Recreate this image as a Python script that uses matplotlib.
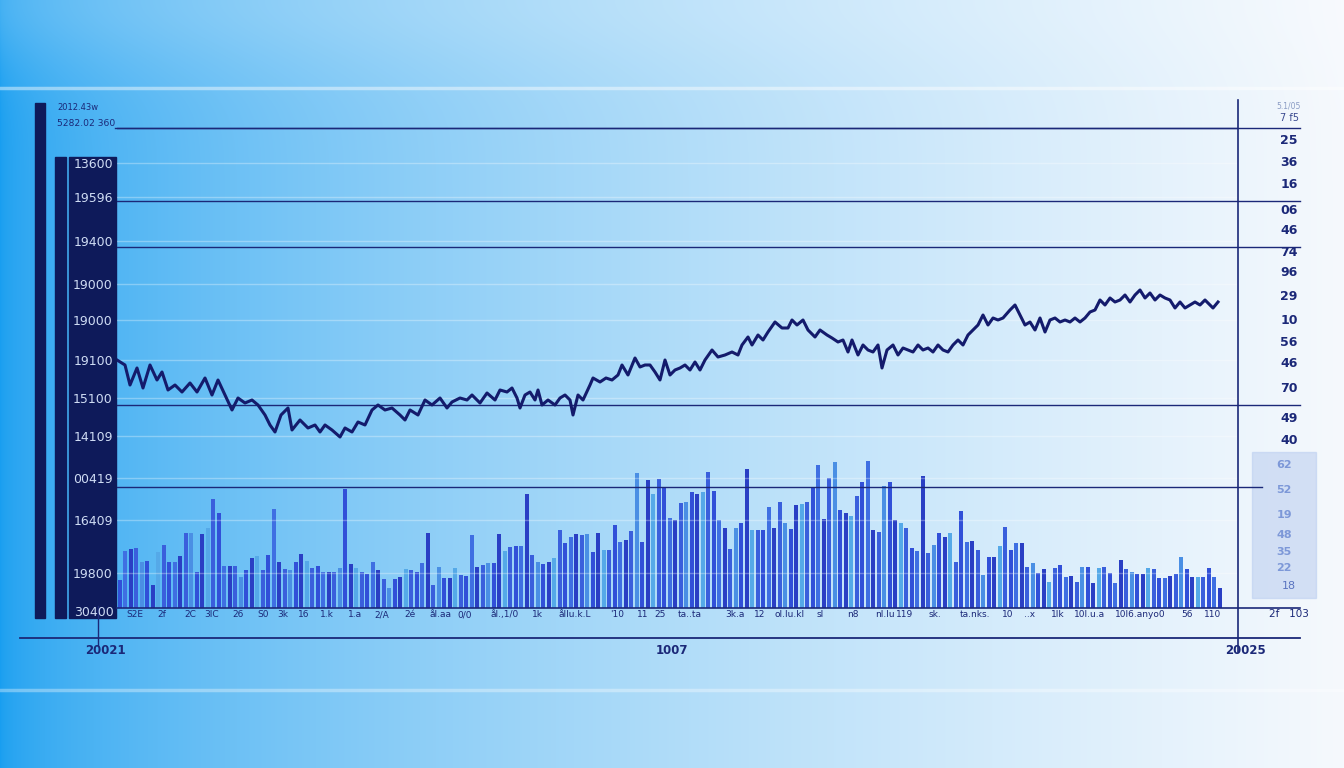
import matplotlib
matplotlib.use("Agg")
import matplotlib.pyplot as plt
from matplotlib.patches import Rectangle
from matplotlib.lines import Line2D
import numpy as np

W, H = 1344, 768

# ---- data ----
# index line: day offset from start, index level
line_day = [0, 8, 13, 20, 26, 33, 40, 45, 51, 58,
            65, 73, 80, 88, 95, 101, 108, 115, 121, 128,
            135, 141, 148, 153, 158, 164, 171, 175, 183, 191,
            198, 203, 208, 215, 223, 228, 235, 241, 248, 255,
            261, 268, 275, 283, 288, 293, 301, 308, 315, 323,
            330, 335, 343, 350, 355, 363, 370, 378, 383, 390,
            395, 400, 403, 408, 413, 418, 421, 425, 431, 438,
            443, 448, 453, 456, 461, 466, 473, 476, 483, 489,
            495, 501, 505, 511, 518, 523, 528, 533, 538, 543,
            548, 553, 558, 563, 568, 573, 578, 583, 588, 595,
            601, 608, 615, 621, 625, 631, 635, 641, 646, 651,
            658, 665, 671, 675, 680, 686, 691, 698, 703, 710,
            715, 721, 726, 731, 735, 741, 746, 751, 756, 761,
            765, 770, 776, 781, 786, 791, 796, 801, 806, 811,
            816, 821, 826, 831, 836, 841, 846, 851, 856, 861,
            866, 871, 876, 881, 886, 893, 898, 903, 908, 913,
            918, 923, 928, 933, 938, 943, 948, 953, 958, 963,
            968, 973, 978, 983, 988, 993, 998, 1003, 1008, 1013,
            1018, 1023, 1028, 1033, 1038, 1043, 1048, 1053, 1058, 1063,
            1068, 1073, 1078, 1083, 1088, 1093, 1096, 1101]
line_val = [248, 243, 223, 240, 220, 243, 228, 236, 218, 223,
            216, 225, 216, 230, 213, 228, 213, 198, 210, 205,
            208, 203, 193, 183, 176, 193, 200, 178, 188, 180,
            183, 176, 183, 178, 171, 180, 176, 186, 183, 198,
            203, 198, 200, 193, 188, 198, 193, 208, 203, 210,
            200, 206, 210, 208, 213, 205, 215, 208, 218, 216,
            220, 210, 200, 213, 216, 208, 218, 203, 208, 203,
            210, 213, 208, 193, 213, 208, 223, 230, 226, 230,
            228, 233, 243, 233, 250, 241, 243, 243, 236, 228,
            248, 233, 238, 240, 243, 238, 246, 238, 248, 258,
            251, 253, 256, 253, 263, 271, 263, 273, 268, 276,
            286, 280, 280, 288, 283, 288, 278, 271, 278, 273,
            270, 266, 268, 256, 268, 253, 263, 258, 256, 263,
            240, 258, 263, 253, 260, 258, 256, 263, 258, 260,
            256, 263, 258, 256, 263, 268, 263, 273, 278, 283,
            293, 283, 290, 288, 290, 298, 303, 293, 283, 286,
            278, 290, 276, 288, 290, 286, 288, 286, 290, 286,
            290, 296, 298, 308, 303, 310, 306, 308, 313, 306,
            313, 318, 310, 315, 308, 313, 310, 308, 300, 306,
            300, 303, 306, 303, 308, 303, 300, 306]

# volume bars
bar_vol = [28, 57, 59, 60, 46, 47, 23, 56, 63, 46,
           46, 52, 75, 75, 36, 74, 80, 109, 95, 42,
           42, 42, 31, 38, 50, 52, 38, 53, 99, 46,
           39, 38, 46, 54, 47, 40, 42, 36, 36, 36,
           40, 119, 44, 40, 36, 34, 46, 38, 29, 20,
           29, 31, 39, 38, 36, 45, 75, 23, 41, 30,
           30, 40, 33, 32, 73, 41, 43, 45, 45, 74,
           57, 61, 62, 62, 114, 53, 46, 44, 46, 50,
           78, 65, 71, 74, 73, 74, 56, 75, 58, 58,
           83, 66, 68, 77, 135, 66, 128, 114, 129,
           120, 90, 88, 105, 106, 116, 114, 116, 136, 117,
           88, 80, 59, 80, 85, 139, 78, 78, 78, 101,
           80, 106, 85, 79, 103, 104, 106, 120, 143, 89,
           130, 146, 98, 95, 92, 112, 126, 147, 78, 76,
           122, 126, 88, 85, 80, 60, 57, 132, 55,
           63, 75, 71, 75, 46, 97, 66, 67, 58, 33,
           51, 51, 62, 81, 58, 65, 65, 41, 45, 35,
           39, 26, 40, 43, 31, 32, 26, 41, 41, 25,
           40, 41, 35, 25, 48, 39, 36, 34, 34, 40,
           39, 30, 30, 32, 34, 51, 39, 31, 31, 31,
           40, 31, 20]

left_labels = ["13600", "19596", "19400", "19000", "19000", "19100",
               "15100", "14109", "00419", "16409", "19800"]
left_levels = [445, 411, 367, 324, 288, 248, 210, 172, 130, 88, 35]

right_labels = ["25", "36", "16", "06", "46", "74", "96", "29",
                "10", "56", "46", "70", "49", "40"]
right_rows = [141, 163, 185, 210, 231, 252, 273, 297, 320, 342, 364, 388, 418, 440]

x_days = [18, 45, 73, 95, 121, 146, 166, 187, 210, 238,
          265, 293, 323, 348, 388, 420, 458, 500, 526, 543,
          573, 618, 643, 673, 703, 736, 768, 788, 818, 858,
          891, 913, 941, 973, 1023, 1070, 1096]
x_labels = ["S2E", "2f", "2C", "3lC", "26", "S0", "3k", "16", "1.k", "1.a",
            "2/A", "2é", "ål.aa", "0/0", "ål.,1/0", "1k", "ållu.k.L", "'10", "11", "25",
            "ta..ta", "3k.a", "12", "ol.lu.kl", "sl", "n8", "nl.lu", "119", "sk.", "ta.nks.",
            "10", "..x", "1lk", "10l.u.a", "10l6.anyo0", "56", "110"]

NAVY = "#1b2878"
PANEL = "#0e1a5a"

def fx(x):
    return x / W

def fy(y):
    return 1 - y / H

def hline(y, x0, x1, lw=1.1, color=NAVY, alpha=1.0):
    fig.add_artist(Line2D([fx(x0), fx(x1)], [fy(y), fy(y)], color=color, lw=lw, alpha=alpha))

def vline(x, y0, y1, lw=1.1, color=NAVY):
    fig.add_artist(Line2D([fx(x), fx(x)], [fy(y0), fy(y1)], color=color, lw=lw))

fig = plt.figure(figsize=(W / 100, H / 100), dpi=100)

# ---- background gradient ----
bg = fig.add_axes([0, 0, 1, 1], zorder=-10)
bg.axis("off")
t = np.linspace(0, 1, W) ** 0.55
c_left = np.array([24, 158, 240]) / 255
c_right = np.array([246, 249, 253]) / 255
row = c_left[None, :] * (1 - t[:, None]) + c_right[None, :] * t[:, None]
img = np.repeat(row[None, :, :], H, axis=0)
yy = np.linspace(0, 1, H)[:, None, None]
glow = 0.18 * np.exp(-(yy / 0.09) ** 2)
img = img * (1 - glow) + glow
bg.imshow(img, aspect="auto", extent=[0, 1, 0, 1])
bg.set_xlim(0, 1)
bg.set_ylim(0, 1)

hline(88, 0, W, lw=2.5, color="white", alpha=0.45)
hline(690, 0, W, lw=2.5, color="white", alpha=0.35)

rect = [fx(117), fy(608), (1238 - 117) / W, (608 - 88) / H]

# ---- volume bars ----
axv = fig.add_axes(rect)
axv.set_facecolor("none")
axv.axis("off")
n = len(bar_vol)
step = 1100 / (n - 1)
axv.set_xlim(-0.5, -0.5 + 1121 / step)
axv.set_ylim(0, 520)
palette = ["#3150d8", "#3f6fe2", "#2a3fc4", "#55a9e8", "#3a5fdc", "#4a8fe4"]
cols = [palette[(i * 7 + i // 3) % len(palette)] for i in range(n)]
axv.bar(range(n), bar_vol, width=0.72, color=cols, linewidth=0)

# ---- index line ----
ax = fig.add_axes(rect)
ax.set_facecolor("none")
ax.set_xlim(0, 1121)
ax.set_ylim(0, 520)
for s in ax.spines.values():
    s.set_visible(False)
ax.set_yticks(left_levels, left_labels)
ax.tick_params(axis="y", length=0, pad=3, labelsize=9, labelcolor="#cfdcf4")
ax.set_xticks(x_days, x_labels)
ax.tick_params(axis="x", length=0, pad=1.5, labelsize=6.5, labelcolor=NAVY)
ax.grid(axis="y", color="white", alpha=0.3, lw=1)
for v in [480, 407, 361, 203, 121]:
    ax.axhline(v, color=NAVY, lw=1.0)
ax.plot(line_day, line_val, color="#141b6c", lw=2.2, solid_joinstyle="round")

# ---- left panel ----
fig.add_artist(Rectangle((fx(35), fy(618)), 10 / W, 515 / H, transform=fig.transFigure,
                         color=PANEL, zorder=-5))
fig.add_artist(Rectangle((fx(55), fy(618)), 11 / W, 461 / H, transform=fig.transFigure,
                         color=PANEL, zorder=-5))
fig.add_artist(Rectangle((fx(69), fy(618)), 47 / W, 461 / H, transform=fig.transFigure,
                         color=PANEL, zorder=-5))
fig.text(fx(57), fy(107), "2012.43w", fontsize=6, color=NAVY, va="center")
fig.text(fx(57), fy(124), "5282.02 360", fontsize=6.6, color=NAVY, va="center")
fig.text(fx(94), fy(612), "30400", fontsize=9, color="#cfdcf4", ha="center", va="center")

# ---- frame lines ----
hline(128, 115, 1300, lw=1.0)
hline(201, 1238, 1300, lw=1.0)
hline(247, 1238, 1300, lw=1.0)
hline(405, 1238, 1300, lw=1.0)
hline(487, 1238, 1262, lw=1.0)
hline(608, 117, 1300, lw=1.2)
hline(638, 20, 1300, lw=1.3)
vline(1238, 100, 652, lw=1.2)
vline(98, 606, 646, lw=1.0)

# ---- right labels ----
fig.text(fx(1289), fy(106), "5.1/05", fontsize=5.5, color="#8a9cc4", ha="center", va="center")
fig.text(fx(1289), fy(118), "7 f5", fontsize=7, color="#3a4a90", ha="center", va="center")
for lab, yr in zip(right_labels, right_rows):
    fig.text(fx(1289), fy(yr), lab, fontsize=9, color=NAVY, fontweight="bold",
             ha="center", va="center")
fig.add_artist(Rectangle((fx(1252), fy(598)), 64 / W, 146 / H, transform=fig.transFigure,
                         color="#b9ccef", alpha=0.55, zorder=-4))
for lab, yr in zip(["62", "52", "19", "48", "35", "22"], [465, 490, 515, 535, 552, 568]):
    fig.text(fx(1284), fy(yr), lab, fontsize=8, color="#7d98d8", fontweight="bold",
             ha="center", va="center")
fig.text(fx(1289), fy(586), "18", fontsize=8, color="#5a74c0", ha="center", va="center")
fig.text(fx(1289), fy(614), "2f   103", fontsize=7.5, color=NAVY, ha="center", va="center")

# ---- bottom labels ----
fig.text(fx(105), fy(651), "20021", fontsize=8.5, color=NAVY, fontweight="bold",
         ha="center", va="center")
fig.text(fx(672), fy(651), "1007", fontsize=8.5, color=NAVY, fontweight="bold",
         ha="center", va="center")
fig.text(fx(1246), fy(651), "20025", fontsize=8.5, color=NAVY, fontweight="bold",
         ha="center", va="center")

fig.savefig("out.png", dpi=100)
